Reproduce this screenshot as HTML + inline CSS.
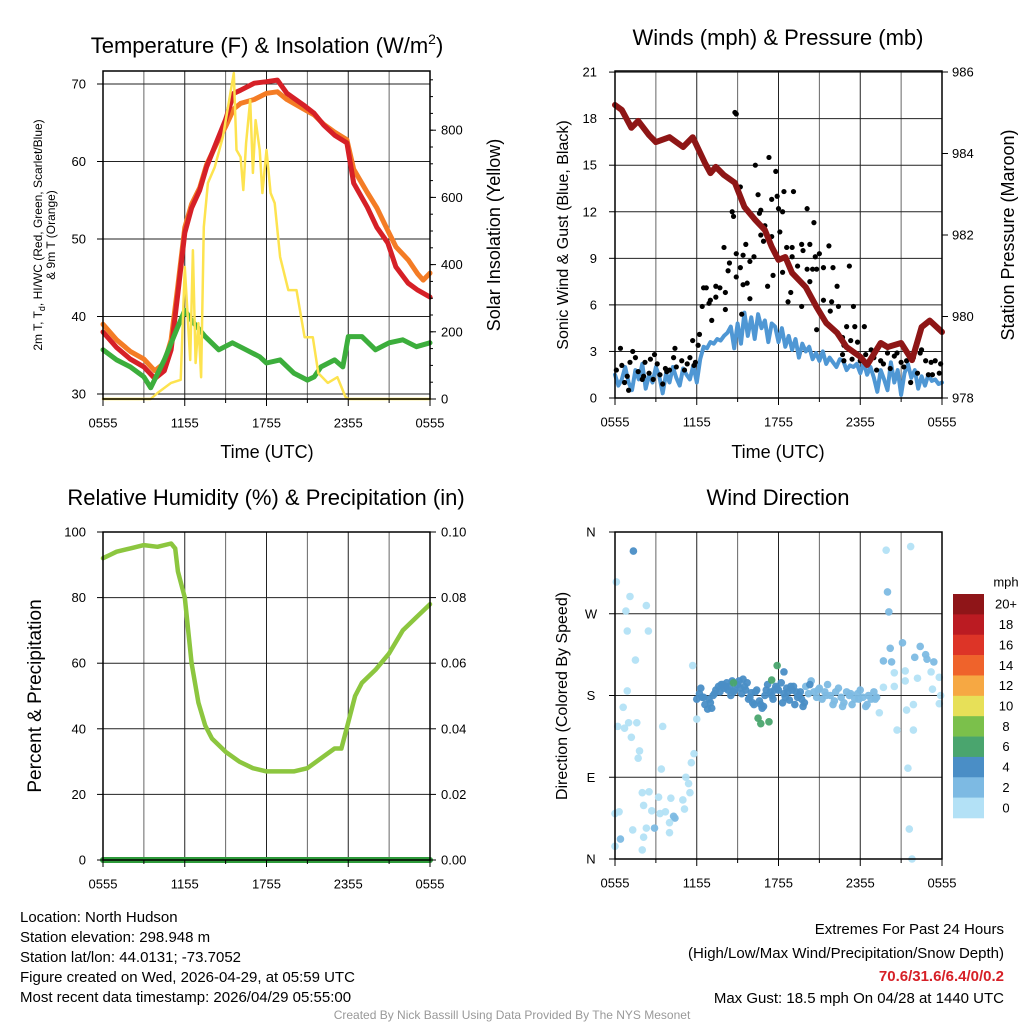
<!DOCTYPE html>
<html><head><meta charset="utf-8"><style>
html,body{margin:0;padding:0;background:#fff}
svg{display:block;font-family:"Liberation Sans",sans-serif}
</style></head><body>
<svg id="c" width="1024" height="1024" viewBox="0 0 1024 1024" xmlns="http://www.w3.org/2000/svg">
<rect width="1024" height="1024" fill="#fff"/>
<g id="titles">
<text x="267" y="53" font-size="22" text-anchor="middle">Temperature (F) &amp; Insolation (W/m<tspan font-size="14" dy="-9">2</tspan><tspan dy="9">)</tspan></text>
<text x="778" y="45" font-size="22" text-anchor="middle">Winds (mph) &amp; Pressure (mb)</text>
<text x="266" y="505" font-size="22" text-anchor="middle">Relative Humidity (%) &amp; Precipitation (in)</text>
<text x="778" y="505" font-size="22" text-anchor="middle">Wind Direction</text>
<text x="267" y="458" font-size="18" text-anchor="middle">Time (UTC)</text>
<text x="778" y="458" font-size="18" text-anchor="middle">Time (UTC)</text>
<text transform="translate(42,235) rotate(-90)" font-size="12" text-anchor="middle">2m T, T<tspan font-size="9" dy="3">d</tspan><tspan dy="-3">, HI/WC (Red, Green, Scarlet/Blue)</tspan></text>
<text transform="translate(55,235) rotate(-90)" font-size="12" text-anchor="middle">&amp; 9m T (Orange)</text>
<text transform="translate(500,235) rotate(-90)" font-size="18" text-anchor="middle">Solar Insolation (Yellow)</text>
<text transform="translate(568,235) rotate(-90)" font-size="16" text-anchor="middle">Sonic Wind &amp; Gust (Blue, Black)</text>
<text transform="translate(1014,235) rotate(-90)" font-size="18" text-anchor="middle">Station Pressure (Maroon)</text>
<text transform="translate(41,696) rotate(-90)" font-size="19" text-anchor="middle">Percent &amp; Precipitation</text>
<text transform="translate(567,696) rotate(-90)" font-size="16" text-anchor="middle">Direction (Colored By Speed)</text>
</g>
<g font-size="15">
<text x="20" y="922">Location: North Hudson</text>
<text x="20" y="942">Station elevation: 298.948 m</text>
<text x="20" y="962">Station lat/lon: 44.0131; -73.7052</text>
<text x="20" y="982">Figure created on Wed, 2026-04-29, at 05:59 UTC</text>
<text x="20" y="1002">Most recent data timestamp: 2026/04/29 05:55:00</text>
</g>
<g font-size="15" text-anchor="end">
<text x="1004" y="934">Extremes For Past 24 Hours</text>
<text x="1004" y="958">(High/Low/Max Wind/Precipitation/Snow Depth)</text>
<text x="1004" y="981" fill="#d62027" font-weight="bold">70.6/31.6/6.4/0/0.2</text>
<text x="1004" y="1003">Max Gust: 18.5 mph On 04/28 at 1440 UTC</text>
</g>
<text x="512" y="1019" font-size="12" fill="#999" text-anchor="middle">Created By Nick Bassill Using Data Provided By The NYS Mesonet</text>
</svg>
<script>
// ---- Temperature panel data (hours since 0555 UTC) ----
const tempHours=[0,1,2,3,3.8,4.5,5,5.5,6,6.5,7.1,7.6,8.4,9,9.6,10.1,11.1,12,12.8,13.5,14.7,15.5,16.2,17,17.9,18.4,19.4,20.1,20.9,21.5,22.4,23.1,24];
const tempRed=[38,36,34.5,33.5,32,33,35.7,43,50.8,54,56.3,59.3,62.8,65.4,68.8,69.2,70.1,70.3,70.5,68.8,67.3,66.2,64.7,63.4,62.4,57.2,54.1,51.5,49.5,46.4,44.3,43.4,42.5];
const temp9mHours=[0,1,2,3,3.8,4.5,5,5.5,6,6.5,7.1,7.6,8.4,9,9.6,10.1,11.1,12,12.8,13.5,14.7,15.5,16.2,17,17.9,18.4,19.4,20.1,20.9,21.5,22.4,23.1,23.5,24];
const temp9m=[39,37,35.5,34.5,33,34,37,44,51.5,54.5,56.6,59.6,62.5,64.5,66.8,67.5,68,68.8,69,68,66.8,66,64.8,63.8,62.8,59,56,54,51.1,49,47.3,45.5,44.7,45.6];
const dewHours=[0,1,2,3,3.5,4.5,5.5,6,6.5,7.5,8.5,9.5,10.5,11.5,12,13,14,15,15.5,16,17,17.6,18,19,20,21,22,23,24];
const dewpoint=[35.7,34.4,33.5,32.2,30.8,34.4,38.7,40.8,39.5,37.4,35.7,36.6,35.7,34.8,34,34.4,32.7,31.8,32.2,33.5,34.4,33.5,37.4,37.4,35.7,36.6,37,36.1,36.6];
const solarHours=[0,3.5,4,5,5.7,6,6.4,6.6,6.8,7,7.2,7.4,7.7,8.2,8.8,9.6,9.8,10.1,10.3,10.5,10.8,11,11.2,11.5,11.7,12,12.3,12.6,13,13.6,14.2,14.8,15.4,15.8,16.5,17.2,17.8,18,24];
const solarValues=[0,0,18,48,57,393,116,443,107,226,65,512,643,690,780,970,741,720,622,762,890,673,830,741,613,741,613,583,423,324,324,184,184,77,48,65,6,0,0];
const tempTicks=[30,40,50,60,70];
const solarTicks=[0,200,400,600,800];
const timeTickLabels=["0555","1155","1755","2355","0555"];
// ---- Wind panel data ----
const presHours=[0,0.5,1.2,1.7,2.5,3,4,5,5.7,6.6,7,7.4,8,8.8,9.5,10.3,11,11.5,12,12.5,13,14,14.8,15.5,16.3,17,18,18.5,19.5,20,21,21.8,22.5,23.1,24];
const pressure=[985.19,985.07,984.63,984.8,984.45,984.28,984.4,984.16,984.4,983.77,983.52,983.67,983.47,983.28,982.69,982.37,982.12,981.71,981.39,981.46,981.07,980.72,980.23,979.84,979.6,979.25,979.01,978.81,979.35,979.25,979.35,978.93,979.74,979.9,979.62];
const windStepHours=0.25;
const windSpeed=[1.5,0.8,1.2,2,1,0.5,1.8,1.2,2.2,0.6,1.5,1,2,1.4,0.3,1.6,1,2,1.3,0.8,1.9,1.5,1.2,2.1,1.0,
2.5,3.3,3.2,3.6,3.5,3.8,3.7,4,4.2,4.6,3.2,4.8,3.5,5.5,4,5.2,3.8,5.4,4.5,5,3.6,4.8,4.6,
3.6,4.5,3.3,4,3.1,3.8,2.6,3.5,3,3.3,2.5,2.9,2.4,3,2.2,2.6,2.3,2,2.5,2.4,1.8,2.1,2,
2.2,1.6,2.3,1.5,2,1.3,0.4,1.8,1.2,0.5,2.3,1.0,1.8,0.2,1.6,2.2,1.3,1.8,0.6,1.4,0.8,1.5,1.1,1.2,0.9,1.0];
const gustHours=[8.8,8.9,11.3,10.3,11.8,12.4,13.1,10.5,11.5,11.9,9.2,14.1,12,12.3,10.6,10.7,8.6,8.7,14.6,11,12.1,10.7,11.5,10.9,8,9.6,12.6,13,13.7,14.3,13.8,15.7,8.9,10.2,13,14.7,15,9.4,9.9,8.4,9.2,8.3,13.4,14.1,14.5,14.8,15.3,16,17.2,8.9,11.6,12.3,14.3,9.4,9.7,11.2,6.5,6.7,7.4,7.7,8.1,7.4,7,6.9,6.4,12.9,13.7,16.3,9.9,12.7,15.3,15.9,16.4,17.5,13.7,8.1,7.1,9.3,14.8,15.8,17,17.6,18.3,16.7,17.3,17.8,6.2,5.7,6.1,4.4,16.7,18.4,
0.4,0.1,0.5,0.9,1.3,1.5,1.7,2.1,2.2,2.6,2.9,3.3,3.7,4,4.3,4.9,5.1,5.5,5.9,0.7,1,2,3.1,3.8,4.5,5.3,5.8,1.1,2.8,3.5,2.5,
16.8,17.4,18,18.5,19,19.5,20,20.5,21,21.4,21.9,22.4,22.8,23.2,23.5,23.9,19.2,20.2,21.2,21.7,22.2,23.3,23.8,18.8,19.7,20.7,22.5,23,16.8];
const gustValues=[18.4,18.3,15.5,15.0,14.6,13.3,13.3,13.1,12.8,13,13.6,12.2,12.2,12,11.9,12.1,12,11.7,11.3,11.1,10.7,10.5,10.4,10.1,9.7,9.9,9.7,9.7,9.9,9.9,9.5,9.8,9.3,9.1,9.1,9.1,9.3,9.2,8.8,8.7,8.4,8.2,8.5,8.3,8.3,8.3,8.4,8.4,8.5,7.8,7.9,8.1,7.5,7.3,7.4,7.2,7.1,7.1,7.2,7.1,6.8,6.5,6.3,6.1,5.9,6.8,7.4,7.2,6.4,6.2,6.3,6.2,5.9,5.9,5.9,5.7,5,5.4,4.4,5.6,4.6,4.6,4.6,3.9,3.7,3.6,4.1,3.7,3.4,3.2,2.8,2.8,
3.2,1.8,2.1,1.4,3,2.6,1.7,1.4,2.3,2.5,2.8,1.5,1.9,1.8,2.6,2.4,1.8,2.6,2.3,1,0.5,1.2,2.2,1.7,2,2.2,2.1,2.3,1.2,0.9,1.6,
2.4,2.5,2.4,2.3,2.6,2.4,2.9,2.7,2.3,2.4,2.6,2.9,2.4,2.3,2.4,2.2,1.8,1.9,2,1,1.6,1.5,1.6,3.1,2.2,2.9,3.1,1.5,3.4];
const windTicks=[0,3,6,9,12,15,18,21];
const presTicks=[978,980,982,984,986];
// ---- RH panel data ----
const rhHours=[0,0.5,1,2,3,4,5,5.3,5.5,6,6.5,7,7.5,8,9,10,11,12,13,14,15,16,17,17.5,18,18.5,19,20,21,22,23,24];
const rhValues=[92,93,94,95,96,95.5,96.5,95,88,80,60,48,41,37,33,30,28,27,27,27,28,31,34,34,42,50,54,58,63,70,74,78];
const precipHours=[0,24];
const precipValues=[0,0];
const rhTicks=[0,20,40,60,80,100];
const precipTicks=["0.00","0.02","0.04","0.06","0.08","0.10"];
// ---- Wind direction data ----
const dirHours=[1.35,0.1,1.1,0.8,2.3,0.9,2.45,1.5,5.7,0.9,0.6,6,0.2,0.7,1.0,1.6,3.5,1.2,1.8,1.7,5.8,5.6,3.4,5.2,5.4,5.5,2,2.5,3.2,4.1,4.98,5.1,2.1,2.7,3.7,4.4,4.3,3.3,4.0,2.9,2.3,1.3,4.0,0,0.3,0.4,0,2.1,2.0,
19.9,21.7,20,20.1,20.2,21.1,22.4,20.3,19.7,20.5,21.3,22,22.8,23.4,22.9,23.2,23.8,22.2,20.5,21.3,23.3,23.9,23.8,21.4,21.9,20.7,21.9,21.5,21.6,21.8,19.7,19.4,
6.0,6.2,6.4,6.6,6.8,7.0,7.2,7.4,7.6,7.8,8.0,8.2,8.4,8.6,8.8,9.0,9.2,9.4,9.6,9.8,10.0,10.2,10.4,10.6,10.8,11.0,11.2,11.4,11.6,11.8,12.0,12.2,12.4,12.6,12.8,13.0,13.2,13.4,13.6,13.8,
6.3,6.9,7.3,7.9,8.3,8.7,9.1,9.5,9.9,10.3,10.7,11.1,11.5,11.9,12.3,12.7,13.1,13.5,13.9,
14.0,14.2,14.4,14.6,14.8,15.0,15.2,15.4,15.6,15.8,16.0,16.2,16.4,16.6,16.8,17.0,17.2,17.4,17.6,17.8,18.0,18.2,18.4,18.6,18.8,19.0,19.2,
14.3,14.9,15.5,16.1,16.7,17.3,17.9,18.5,19.1,
6.5,7.1,7.7,8.1,8.5,9.3,9.7,10.1,10.9,11.7,12.5,12.9,13.3,13.7,
8.7,11.9,11.5,10.5,10.7,11.3,12.4];
const dirDegrees=[339,305,289,273,279,251,251,219,213,185,167,154,146,144,150,150,146,134,119,111,116,106,99,90,83,73,73,74,68,67,65,55,59,53,52,45,47,50,40,34,34,32,29,50,52,22,14,24,10,
340,344,294,272,232,238,234,217,218,205,207,222,225,217,220,206,200,199,190,196,187,180,171,164,170,142,142,100,33,0,189,161,
176,182,178,170,165,172,180,186,190,192,188,194,190,196,186,192,188,198,186,176,183,170,186,174,166,180,192,184,176,190,186,194,182,188,175,186,170,178,184,168,
188,176,182,192,186,184,196,190,178,184,170,186,180,188,172,184,190,180,172,
190,182,196,184,178,188,176,184,192,180,170,184,188,178,172,184,180,170,176,182,186,178,168,180,176,184,178,
192,186,180,174,168,182,176,170,176,
178,166,184,190,180,182,194,172,168,186,178,190,184,176,
194,213,197,155,149,151,206];
const dirSpeed=[2,0,0,0,0,0,0,0,0,0,0,0,0,0,0,0,0,0,0,0,0,0,0,0,0,0,0,0,0,0,0,0,0,0,0,1,1,0,0,1,0,0,0,0,0,1,0,0,0,
0,0,1,1,1,1,1,1,1,0,0,1,1,1,1,0,0,0,0,0,0,0,0,0,0,0,0,0,0,0,0,0,
2,2,2,2,2,2,2,2,2,2,2,2,2,2,2,2,2,2,2,2,2,2,2,2,2,2,2,2,2,2,2,2,2,2,2,2,2,2,2,2,
2,2,2,2,2,2,2,2,2,2,2,2,2,2,2,2,2,2,2,
1,1,1,1,1,1,1,1,1,1,1,1,1,1,1,1,1,1,1,1,1,1,1,1,1,1,1,
2,1,1,1,1,1,1,1,1,
2,2,2,2,2,2,2,2,2,2,2,2,2,2,
3,3,3,3,3,3,2];
const speedBins=["0","2","4","6","8","10","12","14","16","18","20+"];
const speedColors=["#b3e1f6","#7dbae3","#4a8ec6","#4aa56e","#7bc04b","#e7e058","#f6a843","#ef632b","#dd3427","#bb1b22","#8f1518"];
const dirTickLabels=["N","E","S","W","N"];

const svg=document.getElementById('c');
const NS="http://www.w3.org/2000/svg";
function mk(tag,attrs,parent){const e=document.createElementNS(NS,tag);for(const k in attrs)e.setAttribute(k,attrs[k]);(parent||svg).appendChild(e);return e;}
function txt(x,y,s,size,anchor,parent){const t=mk('text',{x:x,y:y,'font-size':size,'text-anchor':anchor,'dominant-baseline':'central'},parent);t.textContent=s;return t;}

function panel(name,L,R,T,B){
  const g=mk('g',{});
  
  
  return {g,L,R,T,B,x:h=>L+(R-L)*h/24};
}
function frame(p,hlines){
  for(let i=1;i<8;i++){const x=p.x(i*3);const l=mk('line',{x1:x,x2:x,y1:p.T,y2:p.B,stroke:i%2?'#666':'#222','stroke-width':1},p.g);}
  hlines.forEach(y=>{const l=mk('line',{x1:p.L,x2:p.R,y1:y,y2:y,stroke:'#222','stroke-width':1},p.g);});
}
function border(p){const r=mk('rect',{x:p.L,y:p.T,width:p.R-p.L,height:p.B-p.T,fill:'none',stroke:'#000','stroke-width':1.5},p.g);
  for(let i=0;i<=8;i++){const x=p.x(i*3);mk('line',{x1:x,x2:x,y1:p.B,y2:p.B+(i%2?4:7),stroke:'#000'},p.g);}
  timeTickLabels.forEach((s,i)=>{const t=txt(p.x(i*6),p.B+24,s,13,'middle',p.g);});
}
function poly(p,hs,vs,fx,fy,color,w,name){
  const pts=hs.map((h,i)=>fx(h).toFixed(1)+','+fy(vs[i]).toFixed(1)).join(' ');
  const e=mk('polyline',{points:pts,fill:'none',stroke:color,'stroke-width':w,'stroke-linejoin':'round','stroke-linecap':'round'},p.g);
  
  
  return e;
}
function leftTicks(p,vals,fy,lx,fmt){vals.forEach(v=>{const y=fy(v);mk('line',{x1:p.L-6,x2:p.L,y1:y,y2:y,stroke:'#000'},p.g);const t=txt(lx,y,fmt?fmt(v):String(v),13,'end',p.g);});}
function rightTicks(p,vals,ys,lx){vals.forEach((v,i)=>{const y=ys[i];mk('line',{x1:p.R,x2:p.R+6,y1:y,y2:y,stroke:'#000'},p.g);const t=txt(lx,y,String(v),13,'start',p.g);});}

// Panel 1
const p1=panel('temperature-panel',103,430,71,399);
const ty=v=>84+(70-v)*7.75, sy=w=>399-w*0.336;
frame(p1,tempTicks.map(ty));
poly(p1,temp9mHours,temp9m,p1.x,ty,'#f47c25',5,'9m-temperature-line');
poly(p1,tempHours,tempRed,p1.x,ty,'#d62027',5,'2m-temperature-line');
poly(p1,dewHours,dewpoint,p1.x,ty,'#3cae3c',5,'dewpoint-line');
poly(p1,solarHours,solarValues,p1.x,sy,'#fde34f',2.5,'solar-insolation-line');
border(p1);
leftTicks(p1,tempTicks,ty,86);
rightTicks(p1,solarTicks,solarTicks.map(sy),441);
for(let w=50;w<=950;w+=50){const y=sy(w);mk('line',{x1:p1.R,x2:p1.R+3,y1:y,y2:y,stroke:'#000'},p1.g);}

// Panel 2
const p2=panel('wind-panel',615,942,71,398);
const wy=v=>398-v*15.52, py=v=>398-(v-978)*40.75;
frame(p2,windTicks.map(wy));
poly(p2,windSpeed.map((v,i)=>i*windStepHours),windSpeed,p2.x,wy,'#4f97d4',4,'sonic-wind-line');
gustHours.forEach((h,i)=>{const c=mk('circle',{cx:p2.x(h),cy:wy(gustValues[i]),r:2.6,fill:'#000'},p2.g);});
poly(p2,presHours,pressure,p2.x,py,'#8e1616',6,'pressure-line');
border(p2);
leftTicks(p2,windTicks,wy,597);
rightTicks(p2,presTicks,presTicks.map(py),952);

// Panel 3
const p3=panel('humidity-panel',103,430,532,860);
const ry=v=>860-v*3.28;
frame(p3,rhTicks.map(ry));
poly(p3,rhHours,rhValues,p3.x,ry,'#8cc63f',4.5,'relative-humidity-line');
poly(p3,precipHours,precipValues,p3.x,v=>860-v*3280,'#2e9a3a',6,'precipitation-line');
border(p3);
leftTicks(p3,rhTicks,ry,86);
rightTicks(p3,precipTicks,rhTicks.map(ry),441);

// Panel 4
const p4=panel('direction-panel',615,942,532,859);
const dy=d=>859-d*327/360;
frame(p4,[90,180,270].map(dy));
dirHours.forEach((h,i)=>{const c=mk('circle',{cx:p4.x(h),cy:dy(dirDegrees[i]),r:3.8,fill:speedColors[dirSpeed[i]],'fill-opacity':0.95},p4.g);});
border(p4);
dirTickLabels.forEach((s,i)=>{const y=dy(i*90);mk('line',{x1:p4.L-6,x2:p4.L,y1:y,y2:y,stroke:'#000'},p4.g);const t=txt(591,y,s,13,'middle',p4.g);});
// colorbar
const cb=mk('g',{});


const bh=224/speedBins.length;
for(let i=0;i<speedBins.length;i++){const k=speedBins.length-1-i;const r=mk('rect',{x:953,y:594+i*bh,width:31,height:bh+0.3,fill:speedColors[k]},cb);
 const t=txt(1006,594+i*bh+bh/2,speedBins[k],13,'middle',cb);}
const mt=txt(1006,582,'mph',13,'middle',cb);


</script>
</body></html>
